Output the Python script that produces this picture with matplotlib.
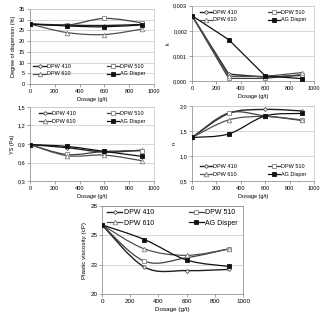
import numpy as np
import matplotlib as mpl
mpl.use('agg')
import matplotlib.pyplot as plt
from matplotlib.path import Path
from matplotlib.patches import PathPatch
from matplotlib.lines import Line2D
from matplotlib.ticker import FuncFormatter, MultipleLocator

plt.rcParams['font.family'] = ['Liberation Sans', 'DejaVu Sans']

## data
dosage = [0, 300, 600, 900]
series_names = ['DPW 410', 'DPW 510', 'DPW 610', 'AG Disper']

disp_410 = [28.0, 27.5, 27.3, 27.8]
disp_510 = [28.0, 27.5, 30.6, 28.6]
disp_610 = [28.0, 24.0, 23.1, 25.6]
disp_ag = [28.0, 27.1, 26.7, 27.6]

k_410 = [0.0026, 0.00027, 0.00015, 0.00022]
k_510 = [0.0026, 0.00010, 0.00010, 0.00025]
k_610 = [0.0026, 0.00018, 0.00018, 0.00033]
k_ag = [0.0026, 0.00165, 0.00020, 0.00009]

ys_410 = [0.89, 0.84, 0.77, 0.80]
ys_510 = [0.89, 0.73, 0.78, 0.79]
ys_610 = [0.89, 0.71, 0.72, 0.63]
ys_ag = [0.89, 0.86, 0.78, 0.70]

n_410 = [1.37, 1.85, 1.93, 1.90]
n_510 = [1.37, 1.86, 1.80, 1.71]
n_610 = [1.37, 1.72, 1.79, 1.72]
n_ag = [1.37, 1.44, 1.80, 1.85]

pv_410 = [25.9, 22.3, 22.0, 22.1]
pv_510 = [25.9, 22.8, 23.1, 23.85]
pv_610 = [25.9, 23.85, 23.3, 23.85]
pv_ag = [25.9, 24.65, 22.9, 22.35]

pv_ticks = [20, 22.5, 25, 27.5]
pv_ticklabels = ['20', '23', '25', '28']

## styles per series
styles = [
    dict(color='#202020', marker='D', mfc='white', mec='#505050', ms=2.0, lw=1.0),
    dict(color='#404040', marker='s', mfc='white', mec='#808080', ms=3.3, lw=0.9),
    dict(color='#505050', marker='^', mfc='white', mec='#808080', ms=3.3, lw=0.9),
    dict(color='#101010', marker='s', mfc='#101010', mec='#101010', ms=2.8, lw=0.9),
]


def smooth_path(x, y):
    # excel style smoothed line: bezier segments through the points
    pts = np.column_stack([x, y]).astype(float)
    verts = [pts[0]]
    codes = [Path.MOVETO]
    n = len(pts)
    for i in range(n - 1):
        p0 = pts[max(i - 1, 0)]
        p1 = pts[i]
        p2 = pts[i + 1]
        p3 = pts[min(i + 2, n - 1)]
        verts += [p1 + (p2 - p0) / 6, p2 - (p3 - p1) / 6, p2]
        codes += [Path.CURVE4] * 3
    return Path(verts, codes)


def style_axes(ax, fs):
    ax.set_facecolor('white')
    for s in ax.spines.values():
        s.set_color('#c8c8c8')
        s.set_linewidth(0.5)
    ax.spines['left'].set_color('#808080')
    ax.spines['bottom'].set_color('#808080')
    ax.yaxis.grid(True, color='#c8c8c8', lw=0.5)
    ax.set_axisbelow(True)
    ax.tick_params(labelsize=fs, length=2, width=0.5, color='#808080', pad=1.5)
    ax.set_xlim(0, 1000)
    ax.xaxis.set_major_locator(MultipleLocator(200))


def draw_panel(ax, data, smooth, fs, legend_loc, legend_anchor, lfs, colsp):
    style_axes(ax, fs)
    handles = []
    for vals, st, name in zip(data, styles, series_names):
        if smooth:
            ax.add_patch(PathPatch(smooth_path(dosage, vals), fill=False,
                                   edgecolor=st['color'], lw=st['lw'], zorder=2))
        else:
            ax.plot(dosage, vals, color=st['color'], lw=st['lw'], zorder=2)
        ax.plot(dosage, vals, ls='none', marker=st['marker'], mfc=st['mfc'],
                mec=st['mec'], ms=st['ms'], mew=0.6, zorder=3)
        handles.append(Line2D([], [], color=st['color'], lw=st['lw'], marker=st['marker'],
                              mfc=st['mfc'], mec=st['mec'], ms=st['ms'], mew=0.6, label=name))
    # legend fills columns first, reorder so rows read 410 510 / 610 AG
    handles = [handles[0], handles[2], handles[1], handles[3]]
    ax.legend(handles=handles, ncol=2, loc=legend_loc, bbox_to_anchor=legend_anchor,
              frameon=False, fontsize=lfs, handlelength=2.2, handletextpad=0.2,
              columnspacing=colsp, labelspacing=0.5, borderpad=0.2)
    ax.set_xlabel('Dosage (g/t)', fontsize=fs, labelpad=2)


def comma_fmt(decimals):
    return FuncFormatter(lambda v, p: ('%.*f' % (decimals, v)).replace('.', ','))


fig = plt.figure(figsize=(3.25, 3.21), dpi=100)

ax1 = fig.add_axes([0.092, 0.738, 0.382, 0.234])
draw_panel(ax1, [disp_410, disp_510, disp_610, disp_ag], True, 4,
           'lower center', (0.48, 0.05), 4, 6.5)
ax1.set_ylim(0, 35)
ax1.yaxis.set_major_locator(MultipleLocator(5))
ax1.set_ylabel('Degree of dispersion (%)', fontsize=4, labelpad=2)

ax2 = fig.add_axes([0.591, 0.748, 0.375, 0.234])
draw_panel(ax2, [k_410, k_510, k_610, k_ag], False, 4,
           'upper center', (0.5, 1.0), 4, 5.5)
ax2.set_ylim(0, 0.003)
ax2.yaxis.set_major_locator(MultipleLocator(0.001))
ax2.yaxis.set_major_formatter(comma_fmt(3))
ax2.set_ylabel('k', fontsize=4, labelpad=2)

ax3 = fig.add_axes([0.092, 0.436, 0.382, 0.231])
draw_panel(ax3, [ys_410, ys_510, ys_610, ys_ag], True, 4,
           'upper center', (0.5, 1.0), 4, 5.5)
ax3.set_ylim(0.3, 1.5)
ax3.yaxis.set_major_locator(MultipleLocator(0.3))
ax3.yaxis.set_major_formatter(comma_fmt(1))
ax3.set_ylabel('YS (Pa)', fontsize=4, labelpad=2)

ax4 = fig.add_axes([0.591, 0.436, 0.375, 0.234])
draw_panel(ax4, [n_410, n_510, n_610, n_ag], True, 4,
           'lower center', (0.5, 0.0), 4, 5.5)
ax4.set_ylim(0.5, 2.0)
ax4.yaxis.set_major_locator(MultipleLocator(0.5))
ax4.yaxis.set_major_formatter(comma_fmt(1))
ax4.set_ylabel('n', fontsize=4, labelpad=2)

ax5 = fig.add_axes([0.314, 0.084, 0.434, 0.274])
draw_panel(ax5, [pv_410, pv_510, pv_610, pv_ag], True, 4.5,
           'upper center', (0.5, 1.02), 5, 5.0)
for s in ax5.spines.values():
    s.set_color('#808080')
ax5.set_ylim(20, 27.5)
ax5.set_yticks(pv_ticks)
ax5.set_yticklabels(pv_ticklabels)
ax5.set_ylabel('Plastic viscosity (cP)', fontsize=4.5, labelpad=2)

fig.savefig('out.png', dpi=100)
